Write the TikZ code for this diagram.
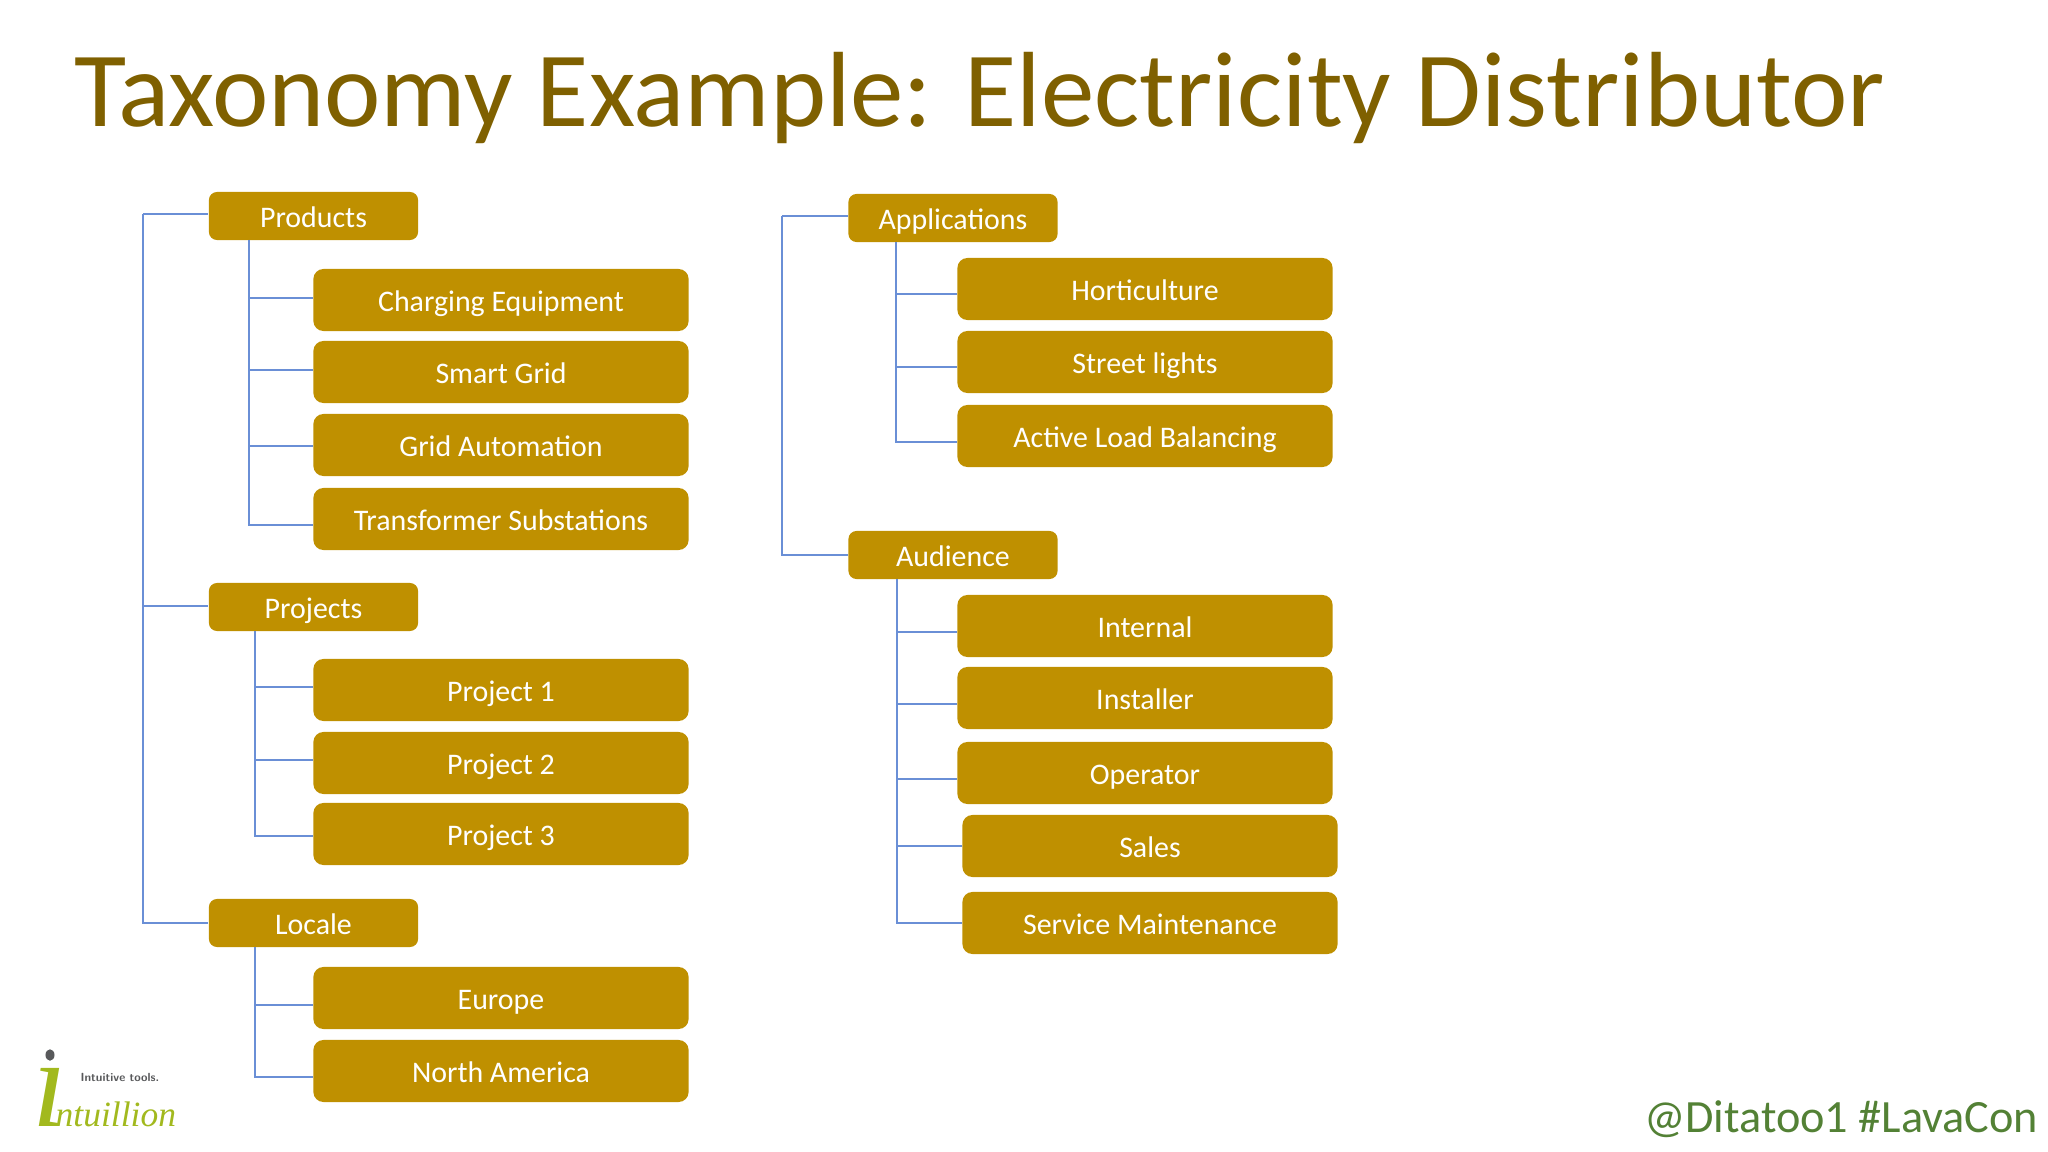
\documentclass[tikz,border=0pt]{standalone}
\usepackage{fontspec}
\usetikzlibrary{shapes.geometric}
\setmainfont{Carlito}
\newfontfamily\logofont{Liberation Serif}
\definecolor{boxgold}{HTML}{BF9000}
\definecolor{titlegold}{HTML}{7F6000}
\definecolor{linkblue}{HTML}{6A8FD6}
\definecolor{tagreen}{HTML}{538135}
\definecolor{logogreen}{HTML}{A2B91E}
\definecolor{logogrey}{HTML}{58595B}
\tikzset{
  topbox/.style={fill=boxgold,rounded corners=0.08cm,text=white,minimum width=2.09cm,minimum height=0.48cm,inner sep=0pt,text height=0.22cm,text depth=0cm,font=\fontsize{8.5}{10}\selectfont},
  subbox/.style={fill=boxgold,rounded corners=0.1cm,text=white,minimum width=3.75cm,minimum height=0.62cm,inner sep=0pt,text height=0.22cm,text depth=0cm,font=\fontsize{8.5}{10}\selectfont},
  link/.style={draw=linkblue,line width=0.4pt}
}
\begin{document}
\begin{tikzpicture}[x=0.01cm,y=-0.01cm]
\useasboundingbox (0,0) rectangle (2048,1152);
\node [anchor=base west,inner sep=0pt,text=titlegold,font=\fontsize{30.4}{32}\selectfont] (title) at (74,127) {Taxonomy Example: Electricity Distributor};
\node [topbox] (products) at (313.5,216) {Products};
\node [subbox] (charging) at (501,300) {Charging Equipment};
\node [subbox] (smart) at (501,372) {Smart Grid};
\node [subbox] (automation) at (501,445) {Grid Automation};
\node [subbox] (transformer) at (501,519) {Transformer Substations};
\node [topbox] (projects) at (313.5,607) {Projects};
\node [subbox] (projecta) at (501,690) {Project 1};
\node [subbox] (projectb) at (501,763) {Project 2};
\node [subbox] (projectc) at (501,834) {Project 3};
\node [topbox] (locale) at (313.5,923) {Locale};
\node [subbox] (europe) at (501,998) {Europe};
\node [subbox] (america) at (501,1071) {North America};
\node [topbox] (applications) at (953,218) {Applications};
\node [subbox] (horticulture) at (1145,289) {Horticulture};
\node [subbox] (street) at (1145,362) {Street lights};
\node [subbox] (balancing) at (1145,436) {Active Load Balancing};
\node [topbox] (audience) at (953,555) {Audience};
\node [subbox] (internal) at (1145,626) {Internal};
\node [subbox] (installer) at (1145,698) {Installer};
\node [subbox] (operator) at (1145,773) {Operator};
\node [subbox] (sales) at (1150,846) {Sales};
\node [subbox] (service) at (1150,923) {Service Maintenance};
% rails
\coordinate (railleft) at (143,214);
\coordinate (railright) at (782,216);
\coordinate (railproducts) at (249,240);
\coordinate (railprojects) at (255,631);
\coordinate (raillocale) at (255,947);
\coordinate (railapplications) at (896,242);
\coordinate (railaudience) at (897,579);
\foreach \n/\d in {products/-2,projects/-1,locale/0}
  \draw [link] (railleft) |- ([shift={(0,\d)}]\n.west);
\foreach \n/\d in {applications/-2,audience/0}
  \draw [link] (railright) |- ([shift={(0,\d)}]\n.west);
\foreach \n/\d in {charging/-2,smart/-2,automation/1,transformer/6}
  \draw [link] (railproducts) |- ([shift={(0,\d)}]\n.west);
\foreach \n/\d in {projecta/-3,projectb/-3,projectc/2}
  \draw [link] (railprojects) |- ([shift={(0,\d)}]\n.west);
\foreach \n/\d in {europe/7,america/6}
  \draw [link] (raillocale) |- ([shift={(0,\d)}]\n.west);
\foreach \n/\d in {horticulture/5,street/5,balancing/6}
  \draw [link] (railapplications) |- ([shift={(0,\d)}]\n.west);
\foreach \n/\d in {internal/6,installer/6,operator/6,sales/0,service/0}
  \draw [link] (railaudience) |- ([shift={(0,\d)}]\n.west);
% logo and tag
\node [fill=logogrey,ellipse,minimum width=0.09cm,minimum height=0.115cm,inner sep=0pt] (logodot) at (50,1055) {};
\node [anchor=base west,inner sep=0pt,text=logogreen,font=\logofont\itshape\fontsize{36}{38}\selectfont] (logoi) at (32,1126) {ı};
\node [anchor=base west,inner sep=0pt,text=logogreen,font=\logofont\itshape\fontsize{10.1}{12}\selectfont] (logoname) at (55,1126) {ntuillion};
\node [anchor=base west,inner sep=0pt,text=logogrey,font=\sffamily\bfseries\fontsize{3.35}{4}\selectfont] (logotag) at (80,1081) {Intuitive tools.};
\node [anchor=base east,inner sep=0pt,text=tagreen,font=\fontsize{13.15}{15}\selectfont] (tag) at (2039,1132) {@Ditatoo1 \#LavaCon};
\end{tikzpicture}
\end{document}
